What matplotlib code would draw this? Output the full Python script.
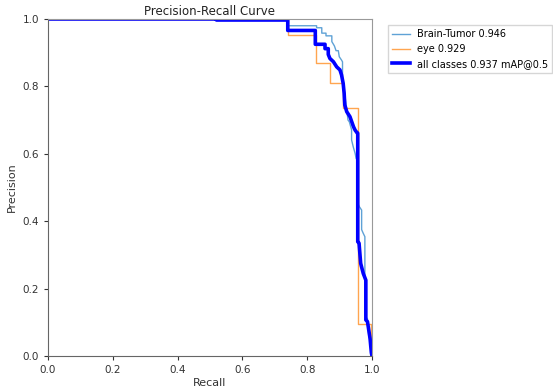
import numpy as np
import matplotlib.pyplot as plt

# Precision-recall points (step curves)
brain_recall = [0.0, 0.74, 0.74, 0.829, 0.829, 0.845, 0.845, 0.858, 0.858, 0.876, 0.876,
                0.884, 0.889, 0.896, 0.899, 0.906, 0.909, 0.909, 0.913, 0.918, 0.922, 0.926,
                0.930, 0.937, 0.937, 0.942, 0.948, 0.951, 0.958, 0.958, 0.961, 0.968, 0.968,
                0.973, 0.978, 0.978, 0.986, 0.990, 0.995, 0.998, 1.0]
brain_precision = [1.0, 1.0, 0.98, 0.98, 0.974, 0.974, 0.958, 0.958, 0.95, 0.95, 0.933,
                   0.92, 0.906, 0.906, 0.888, 0.878, 0.873, 0.814, 0.80, 0.76, 0.73, 0.70,
                   0.695, 0.671, 0.641, 0.621, 0.601, 0.586, 0.58, 0.45, 0.443, 0.433, 0.375,
                   0.364, 0.354, 0.12, 0.11, 0.06, 0.04, 0.01, 0.0]

eye_recall = [0.0, 0.74, 0.74, 0.826, 0.826, 0.87, 0.87, 0.91, 0.91, 0.958, 0.958,
              0.996, 0.996, 1.0]
eye_precision = [1.0, 1.0, 0.953, 0.953, 0.87, 0.87, 0.81, 0.81, 0.735, 0.735, 0.095,
                 0.095, 0.0, 0.0]

all_recall = [0.0, 0.52, 0.52, 0.74, 0.74, 0.825, 0.825, 0.855, 0.855, 0.865, 0.865,
              0.870, 0.881, 0.891, 0.901, 0.906, 0.911, 0.914, 0.916, 0.922, 0.932, 0.943,
              0.948, 0.955, 0.956, 0.956, 0.960, 0.965, 0.973, 0.981, 0.981, 0.986, 0.994,
              0.998, 1.0]
all_precision = [1.0, 1.0, 0.997, 0.997, 0.966, 0.966, 0.925, 0.925, 0.912, 0.912, 0.895,
                 0.883, 0.873, 0.858, 0.849, 0.834, 0.809, 0.78, 0.745, 0.725, 0.710, 0.680,
                 0.670, 0.661, 0.661, 0.339, 0.335, 0.275, 0.245, 0.225, 0.107, 0.102, 0.052,
                 0.01, 0.0]

labels = ['Brain-Tumor 0.946', 'eye 0.929', 'all classes 0.937 mAP@0.5']

fig = plt.figure(figsize=(5.53, 3.88), dpi=100)
ax = fig.add_axes([48 / 553, 32 / 388, 324 / 553, 337 / 388])

ax.plot(brain_recall, brain_precision, color='#5fa2d6', linewidth=1, label=labels[0])
ax.plot(eye_recall, eye_precision, color='#ffa550', linewidth=1, label=labels[1])
ax.plot(all_recall, all_precision, color='blue', linewidth=2.6, label=labels[2])

ax.set_xlim(0, 1)
ax.set_ylim(0, 1)
ax.set_xticks(np.arange(0, 1.01, 0.2))
ax.set_yticks(np.arange(0, 1.01, 0.2))
ax.tick_params(labelsize=7.5, colors='#333333', length=3)
for side in ['left', 'bottom']:
    ax.spines[side].set_color('#666666')
for side in ['right', 'top']:
    ax.spines[side].set_color('#999999')

ax.set_xlabel('Recall', fontsize=8, color='#333333', labelpad=2)
ax.set_ylabel('Precision', fontsize=8, color='#333333')
ax.set_title('Precision-Recall Curve', fontsize=8.5, color='#222222', pad=3)

ax.legend(bbox_to_anchor=(1.04, 0.99), loc='upper left', fontsize=7,
          handlelength=1.9, handletextpad=0.7, borderaxespad=0.3,
          frameon=True, fancybox=False, edgecolor='#cccccc')

plt.savefig('out.png', dpi=100)
plt.close()
